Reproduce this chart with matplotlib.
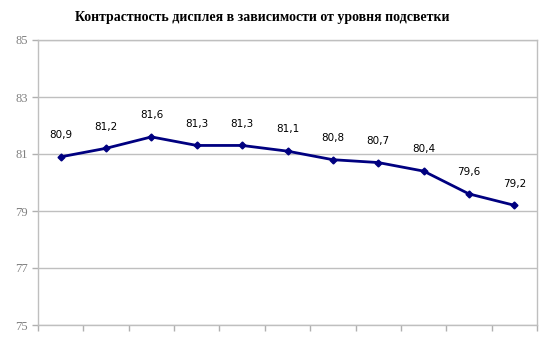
import matplotlib.pyplot as plt
import numpy as np

# контрастность по уровням подсветки
values = [80.9, 81.2, 81.6, 81.3, 81.3, 81.1, 80.8, 80.7, 80.4, 79.6, 79.2]
labels = ["80,9", "81,2", "81,6", "81,3", "81,3", "81,1", "80,8", "80,7", "80,4", "79,6", "79,2"]
yticks = [75, 77, 79, 81, 83, 85]

fig = plt.figure(figsize=(5.5, 3.4), dpi=100)
ax = fig.add_axes([38 / 550, 1 - 325 / 340, (537 - 38) / 550, (325 - 40) / 340])

x = np.arange(len(values))
ax.plot(x, values, color="#000080", linewidth=2, marker="D", markersize=3.5, zorder=3)
for xi, v, t in zip(x, values, labels):
    ax.annotate(t, (xi, v), xytext=(0, 12), textcoords="offset points",
                ha="center", va="bottom", fontsize=7.5, family="DejaVu Sans")

ax.set_xlim(-0.5, len(values) - 0.5)
ax.set_ylim(75, 85)
ax.set_yticks(yticks)
ax.set_yticklabels([str(t) for t in yticks], family="Liberation Serif", fontsize=9, color="#808080")
ax.set_xticks(np.arange(-0.5, len(values) + 0.5, 1))
ax.set_xticklabels([])
ax.tick_params(axis="both", color="#b0b0b0", length=4, width=1)
ax.grid(axis="y", color="#bfbfbf", linewidth=1)
ax.set_axisbelow(True)
for s in ax.spines.values():
    s.set_color("#bfbfbf")
    s.set_linewidth(1)

fig.text(262 / 550, 1 - 18 / 340, "Контрастность дисплея в зависимости от уровня подсветки",
         ha="center", va="center", family="Liberation Serif", fontweight="bold", fontsize=10)

fig.savefig("out.png", dpi=100)
